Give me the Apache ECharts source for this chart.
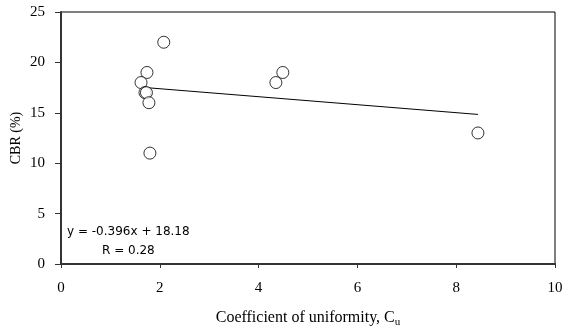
<!DOCTYPE html>
<html>
<head>
<meta charset="utf-8">
<script src="https://cdn.jsdelivr.net/npm/echarts@6/dist/echarts.min.js"></script>
<style>
  html, body { margin: 0; padding: 0; background: #fff; }
  #chart { width: 571px; height: 334px; }
</style>
</head>
<body>
<div id="chart"></div>
<script>
// measured points: coefficient of uniformity vs CBR
const cuValues = [2.08, 1.74, 1.62, 1.70, 1.73, 1.78, 1.80, 4.35, 4.49, 8.44];
const cbrValues = [22, 19, 18, 17, 17, 16, 11, 18, 19, 13];

// linear trend reported on the chart
const trendSlope = -0.396;
const trendIntercept = 18.18;
const trendR = 0.28;

const xTicks = [0, 2, 4, 6, 8, 10];
const yTicks = [0, 5, 10, 15, 20, 25];

const points = cuValues.map((x, i) => [x, cbrValues[i]]);
const xMin = Math.min(...cuValues);
const xMax = Math.max(...cuValues);
const trendLine = [xMin, xMax].map(x => [x, trendSlope * x + trendIntercept]);

const serif = '"Liberation Serif", "Times New Roman", serif';
const sans = '"DejaVu Sans", Verdana, sans-serif';

const chart = echarts.init(document.getElementById('chart'));

const option = {
    backgroundColor: '#fff',
    animation: false,
    grid: {
        left: 61,
        top: 12,
        right: 16,
        bottom: 70,
        outerBoundsMode: 'none',
        containLabel: false,
        show: true,
        borderColor: '#000',
        borderWidth: 1
    },
    xAxis: {
        type: 'value',
        min: xTicks[0],
        max: xTicks[xTicks.length - 1],
        interval: 2,
        name: 'Coefficient of uniformity, C{sub|u}',
        nameLocation: 'middle',
        nameGap: 44,
        nameMoveOverlap: false,
        nameTextStyle: {
            color: '#000',
            fontFamily: serif,
            fontSize: 16,
            rich: {
                sub: { fontFamily: serif, fontSize: 11, color: '#000', padding: [9, 0, 0, 0] }
            }
        },
        axisLine: { show: true, onZero: false, lineStyle: { color: '#333', width: 2 } },
        axisTick: { show: true, length: 4, lineStyle: { color: '#333' } },
        axisLabel: { color: '#000', fontFamily: serif, fontSize: 15, margin: 17 },
        splitLine: { show: false }
    },
    yAxis: {
        type: 'value',
        min: yTicks[0],
        max: yTicks[yTicks.length - 1],
        interval: 5,
        name: 'CBR (%)',
        nameLocation: 'middle',
        nameGap: 38,
        nameMoveOverlap: false,
        nameTextStyle: { color: '#000', fontFamily: serif, fontSize: 14 },
        axisLine: { show: true, onZero: false, lineStyle: { color: '#333', width: 2 } },
        axisTick: { show: true, length: 6, lineStyle: { color: '#333' } },
        axisLabel: { color: '#000', fontFamily: serif, fontSize: 15, margin: 16 },
        splitLine: { show: false }
    },
    graphic: [
        {
            type: 'text',
            left: 67,
            top: 226,
            style: {
                text: 'y = ' + trendSlope.toFixed(3) + 'x + ' + trendIntercept.toFixed(2),
                fill: '#000',
                font: '12px ' + sans
            }
        },
        {
            type: 'text',
            left: 102,
            top: 245,
            style: {
                text: 'R = ' + trendR.toFixed(2),
                fill: '#000',
                font: '12px ' + sans
            }
        }
    ],
    series: [
        {
            name: 'Trend',
            type: 'line',
            data: trendLine,
            symbol: 'none',
            lineStyle: { color: '#000', width: 1 },
            z: 1
        },
        {
            name: 'CBR',
            type: 'scatter',
            data: points,
            symbol: 'circle',
            symbolSize: 12,
            itemStyle: { color: '#fff', borderColor: '#000', borderWidth: 1 },
            z: 2
        }
    ]
};

chart.setOption(option);
</script>
</body>
</html>
